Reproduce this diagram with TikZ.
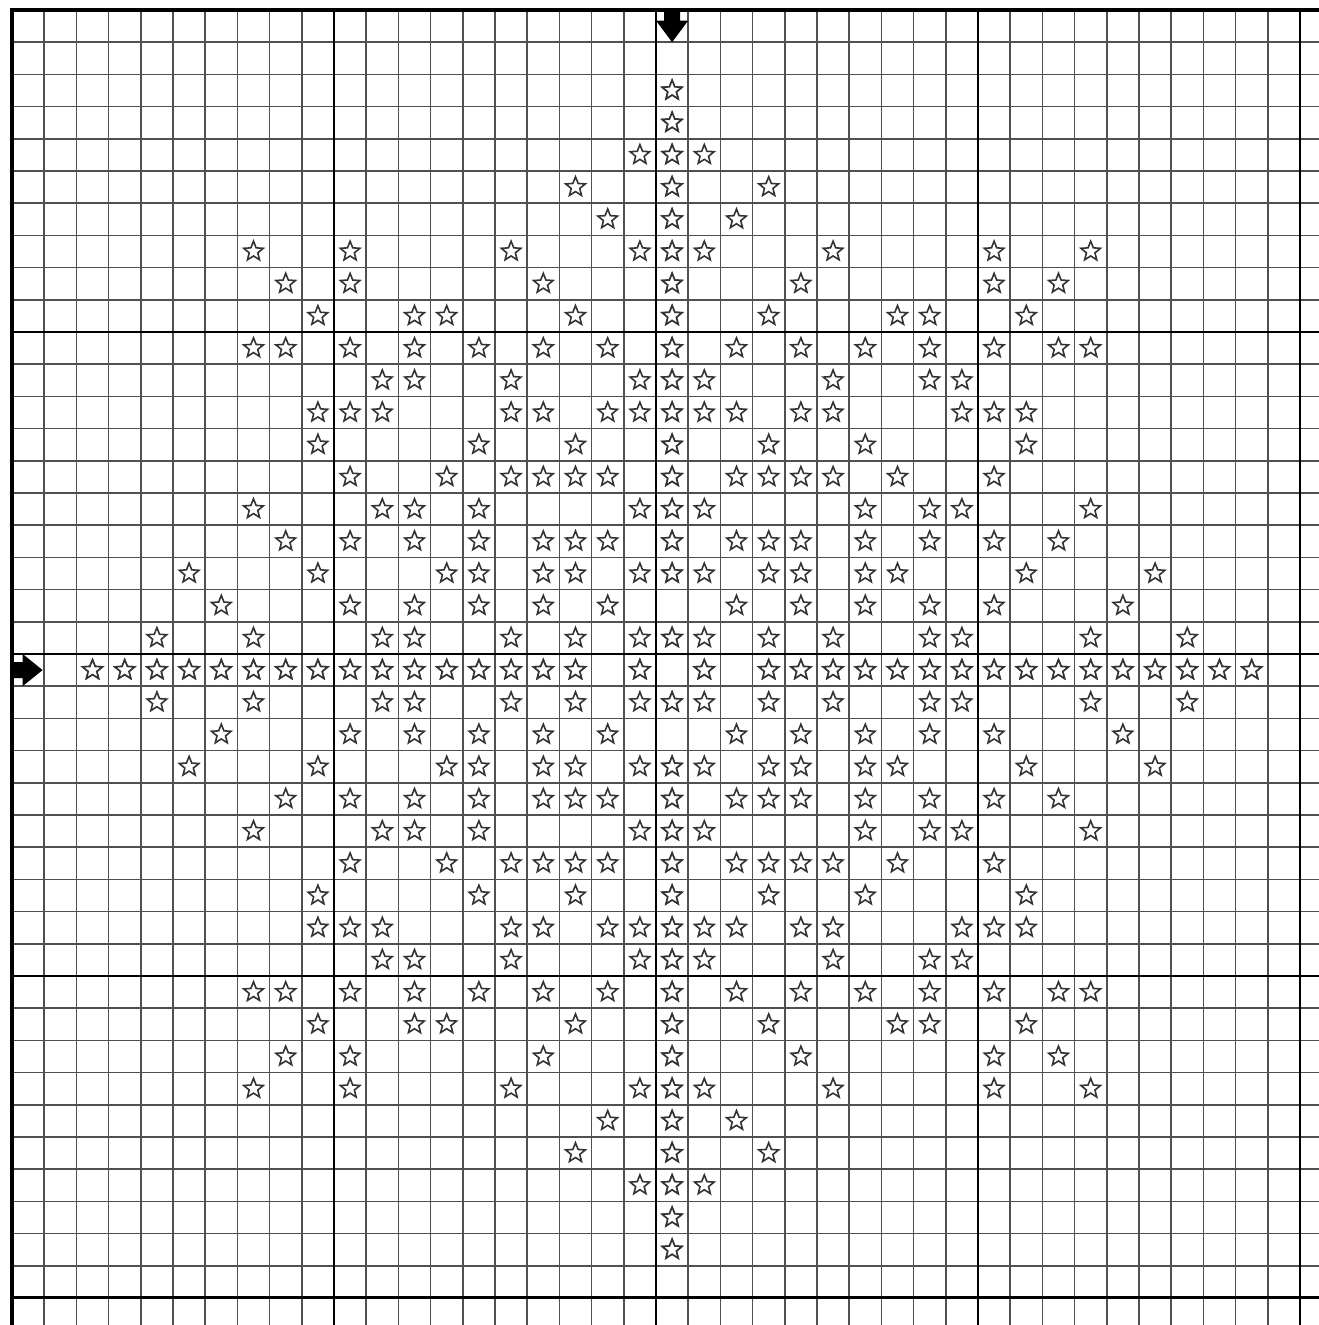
\documentclass[tikz,border=0pt]{standalone}
\usepackage{xcolor}
\usepackage{tikz}
\usetikzlibrary{shapes.geometric}
\definecolor{ink}{HTML}{000000}
\definecolor{rule}{HTML}{505050}
\definecolor{stitch}{HTML}{333333}
\tikzset{
  thinrule/.style={draw=rule,line width=1.5pt},
  boldrule/.style={draw=ink,line width=2.6pt},
  starmark/.style={star,star points=5,star point ratio=2.3,minimum size=0.64cm,inner sep=0pt,draw=stitch,line width=1.4pt,fill=white},
  centremark/.style={fill=ink,draw=none}}
\begin{document}
\begin{tikzpicture}
\useasboundingbox[fill=white] (-0.373,0.31) rectangle (40.59,-40.84);
% the chart grid
\draw[thinrule] (0,-40.84) grid (40.59,0);
\foreach \k in {0,10,20,30,40}{
  \draw[boldrule] (\k,0) -- (\k,-40.84);
  \draw[boldrule] (0,-\k) -- (40.59,-\k);
}
\draw[draw=ink,line width=3.4pt] (0,-40.84) -- (0,0) -- (40.59,0);
% one quarter of the stitches, mirrored into the other three
\foreach \r/\cols in {2/{20},3/{20},4/{19,20},5/{17,20},6/{18,20},
  7/{7,10,15,19,20},8/{8,10,16,20},9/{9,12,13,17,20},
  10/{7,8,10,12,14,16,18,20},11/{11,12,15,19,20},
  12/{9,10,11,15,16,18,19,20},13/{9,14,17,20},
  14/{10,13,15,16,17,18,20},15/{7,11,12,14,19,20},
  16/{8,10,12,14,16,17,18,20},17/{5,9,13,14,16,17,19,20},
  18/{6,10,12,14,16,18},19/{4,7,11,12,15,17,19,20},
  20/{2,3,4,5,6,7,8,9,10,11,12,13,14,15,16,17,19}}{
  \pgfmathtruncatemacro\rr{40-\r}
  \foreach \c in \cols {
    \pgfmathtruncatemacro\cc{40-\c}
    \foreach \x in {\c,\cc}
      \foreach \y in {\r,\rr}
        \node[starmark] (s-\y-\x) at (\x+0.5,-\y-0.5) {};
  }
}
% centre markers
\fill[centremark] (20.25,0) -- (20.75,0) -- (20.75,-0.33) -- (21,-0.33)
  -- (20.5,-1.0) -- (20,-0.33) -- (20.25,-0.33) -- cycle;
\fill[centremark] (0,-20.25) -- (0,-20.75) -- (0.33,-20.75) -- (0.33,-21)
  -- (0.95,-20.5) -- (0.33,-20) -- (0.33,-20.25) -- cycle;
\end{tikzpicture}
\end{document}
